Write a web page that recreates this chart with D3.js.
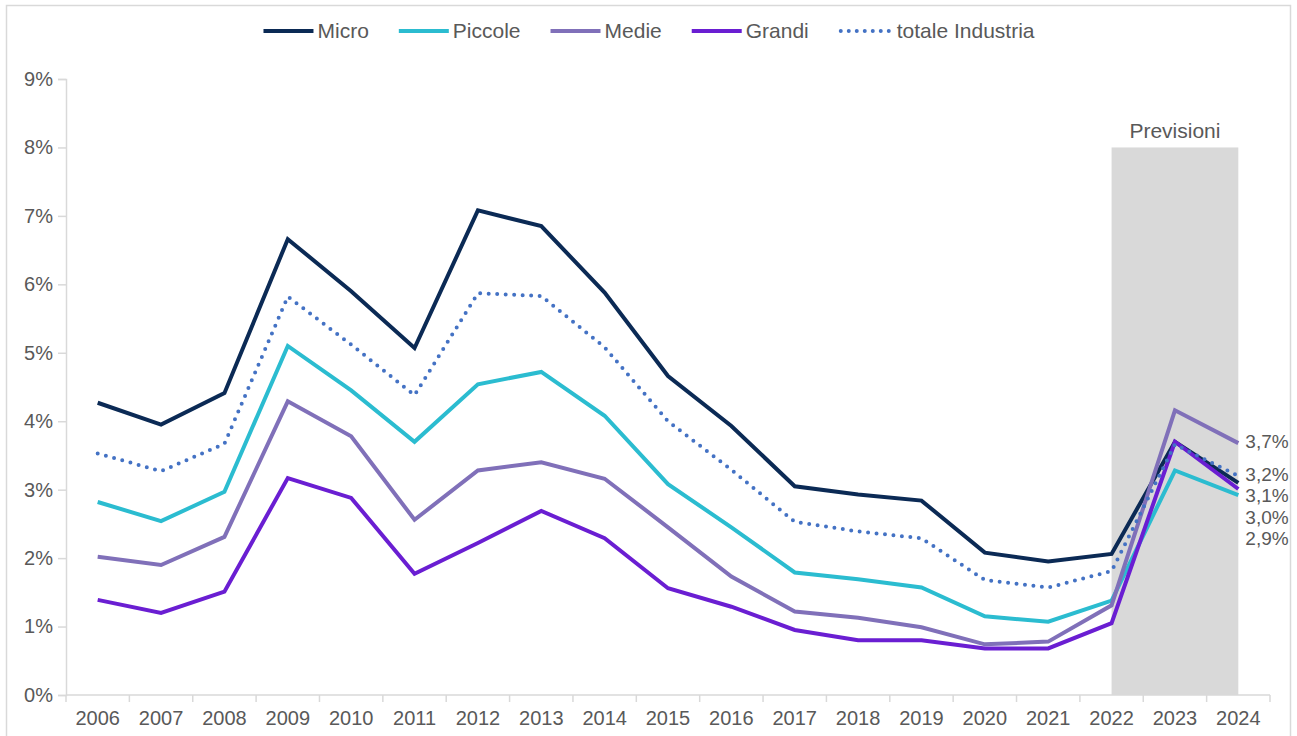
<!DOCTYPE html>
<html><head><meta charset="utf-8">
<script src="https://cdn.jsdelivr.net/npm/d3@7"></script>
<style>
html,body{margin:0;padding:0;background:#fff;}
svg{display:block;font-family:"Liberation Sans",Arial,sans-serif;}
</style></head>
<body><svg id="c" width="1297" height="736"></svg>
<script>
const years = ["2006","2007","2008","2009","2010","2011","2012","2013","2014","2015","2016","2017","2018","2019","2020","2021","2022","2023","2024"];
const micro   = [4.27,3.95,4.41,6.66,5.90,5.07,7.08,6.85,5.88,4.66,3.93,3.05,2.93,2.84,2.08,1.95,2.06,3.70,3.10];
const piccole = [2.82,2.54,2.97,5.10,4.45,3.70,4.54,4.72,4.08,3.08,2.45,1.79,1.69,1.57,1.15,1.07,1.38,3.28,2.92];
const medie   = [2.02,1.90,2.31,4.29,3.78,2.56,3.28,3.40,3.16,2.45,1.73,1.22,1.13,0.99,0.74,0.78,1.31,4.16,3.68];
const grandi  = [1.39,1.20,1.51,3.17,2.88,1.77,2.22,2.69,2.29,1.56,1.29,0.95,0.80,0.80,0.68,0.68,1.05,3.70,3.01];
const totale  = [3.53,3.27,3.67,5.82,5.12,4.38,5.87,5.83,5.08,4.00,3.29,2.53,2.39,2.29,1.68,1.57,1.81,3.66,3.20];
const yTicks = [0,1,2,3,4,5,6,7,8,9];
const forecastFrom = "2022", forecastTo = "2024", forecastTop = 8;
const forecastLabel = "Previsioni";

const series = [
  {name:"Micro", values:micro, color:"#0b2a55", dash:null},
  {name:"Piccole", values:piccole, color:"#2bbcd0", dash:null},
  {name:"Medie", values:medie, color:"#8070b9", dash:null},
  {name:"Grandi", values:grandi, color:"#6a1ed2", dash:null},
  {name:"totale Industria", values:totale, color:"#4472c4", dash:"0 8.5"}
];

const svg = d3.select("#c");
const textColor = "#595959", axisColor = "#d9d9d9";
const L = 66, R = 1270, T = 79, B = 695;

// frame
svg.append("rect").attr("x",6.5).attr("y",5.5).attr("width",1284).attr("height",740)
  .attr("fill","none").attr("stroke","#d9d9d9").attr("stroke-width",1.5);

const x = d3.scaleBand().domain(years).range([L,R]);
const xc = d => x(d) + x.bandwidth()/2;
const y = d3.scaleLinear().domain([0,9]).range([B,T]);

// forecast shading
svg.append("rect").attr("x",xc(forecastFrom)).attr("width",xc(forecastTo)-xc(forecastFrom))
  .attr("y",y(forecastTop)).attr("height",y(0)-y(forecastTop)).attr("fill","#d9d9d9");
svg.append("text").attr("x",(xc(forecastFrom)+xc(forecastTo))/2).attr("y",y(forecastTop)-9)
  .attr("text-anchor","middle").attr("fill",textColor).attr("font-size",21).text(forecastLabel);

// axes
const yAxis = svg.append("g").attr("transform",`translate(${L},0)`)
  .call(d3.axisLeft(y).tickValues(yTicks).tickSize(8).tickPadding(5).tickFormat(d=>d+"%"));
const xAxis = svg.append("g").attr("transform",`translate(0,${B})`)
  .call(d3.axisBottom(x).tickSizeOuter(8).tickSize(0).tickPadding(16));
// band boundary ticks
svg.append("g").selectAll("line").data(years.concat(["__end"])).join("line")
  .attr("x1",(d,i)=> i<years.length ? x(d) : R).attr("x2",(d,i)=> i<years.length ? x(d) : R)
  .attr("y1",B).attr("y2",B+7).attr("stroke",axisColor).attr("stroke-width",1.5);
[yAxis,xAxis].forEach(g=>{
  g.select(".domain").attr("stroke",axisColor).attr("stroke-width",1.5);
  g.selectAll(".tick line").attr("stroke",axisColor).attr("stroke-width",1.5);
  g.selectAll("text").attr("fill",textColor).attr("font-size",20).attr("font-family","Liberation Sans, Arial, sans-serif");
});
xAxis.select(".domain").attr("d",`M${L},0H${R}`);

// lines
const line = d3.line().x((d,i)=>xc(years[i])).y(d=>y(d));
svg.append("g").selectAll("path").data(series).join("path")
  .attr("d",s=>line(s.values)).attr("fill","none").attr("stroke",s=>s.color)
  .attr("stroke-width",4).attr("stroke-dasharray",s=>s.dash)
  .attr("stroke-linecap",s=>s.dash?"round":"butt").attr("stroke-linejoin","miter");

// end labels
const fmt = v => d3.format(".1f")(v).replace(".",",")+"%";
const ends = series.map(s=>({v:s.values[s.values.length-1]})).sort((a,b)=>b.v-a.v);
let prev = -1e9;
ends.forEach(e=>{ let yy = Math.max(y(e.v)-2, prev+21.5); e.y=yy; prev=yy; });
svg.append("g").selectAll("text").data(ends).join("text")
  .attr("x",xc(forecastTo)+7).attr("y",e=>e.y).attr("dy","0.35em")
  .attr("fill",textColor).attr("font-size",19).text(e=>fmt(e.v));

// legend
const lg = svg.append("g");
let cx = 0;
series.forEach(s=>{
  const g = lg.append("g").attr("transform",`translate(${cx},0)`);
  g.append("line").attr("x1",0).attr("x2",50).attr("y1",0).attr("y2",0)
    .attr("stroke",s.color).attr("stroke-width",4)
    .attr("stroke-dasharray",s.dash?"0 8":null).attr("stroke-linecap",s.dash?"round":"butt")
    .attr("transform",s.dash?"translate(2,0)":null);
  const t = g.append("text").attr("x",s.dash?58:54).attr("y",0).attr("dy","0.35em")
    .attr("fill",textColor).attr("font-size",21).text(s.name);
  cx += (s.dash?58:54) + t.node().getComputedTextLength() + 30;
});
const lw = cx - 30;
lg.attr("transform",`translate(${649 - lw/2},31)`);
</script></body></html>
